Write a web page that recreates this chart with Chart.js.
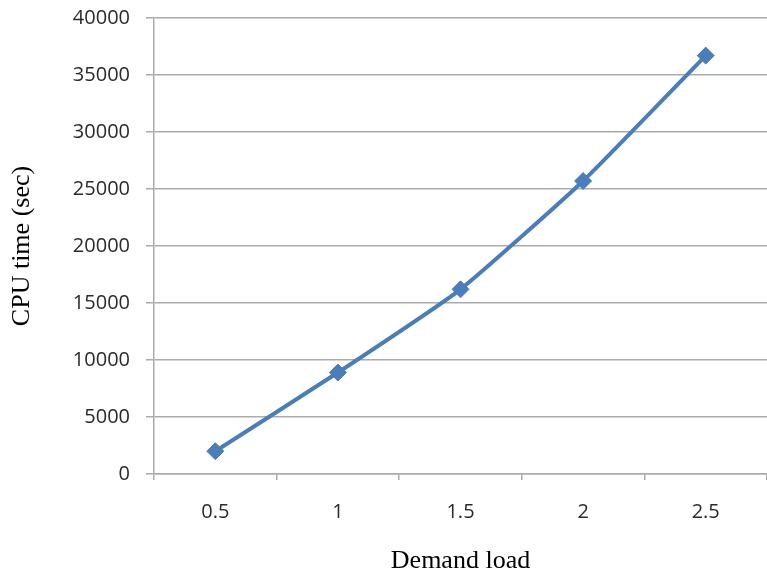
<!DOCTYPE html>
<html>
<head>
<meta charset="utf-8">
<script src="https://cdn.jsdelivr.net/npm/chart.js@4/dist/chart.umd.min.js"></script>
<style>
    html, body { margin: 0; padding: 0; background: #fff; }
    #wrap { width: 767px; height: 576px; position: relative; }
</style>
</head>
<body>
<div id="wrap"><canvas id="cpuChart"></canvas></div>
<script>
const demandLoad = ['0.5', '1', '1.5', '2', '2.5'];
const cpuTime = [2000, 8900, 16200, 25700, 36700];
const yTicks = [0, 5000, 10000, 15000, 20000, 25000, 30000, 35000, 40000];

const lineColor = '#4a7ebb';
const gridColor = '#ababab';
const tickFont = { family: '"Open Sans"', size: 20 };
const titleFont = { family: '"Liberation Serif"', size: 26, lineHeight: 1 };

new Chart(document.getElementById('cpuChart'), {
    type: 'line',
    data: {
        labels: demandLoad,
        datasets: [
            {
                label: 'CPU time',
                data: cpuTime,
                borderColor: lineColor,
                backgroundColor: lineColor,
                borderWidth: 4,
                tension: 0.15,
                pointStyle: 'rectRot',
                pointRadius: 8.5,
                pointBorderWidth: 1
            }
        ]
    },
    options: {
        responsive: true,
        maintainAspectRatio: false,
        animation: false,
        layout: {
            autoPadding: false,
            padding: { top: 18, right: 0, left: 0, bottom: 0 }
        },
        plugins: {
            legend: { display: false },
            tooltip: { enabled: false }
        },
        scales: {
            x: {
                offset: true,
                grid: {
                    offset: true,
                    drawOnChartArea: false,
                    color: gridColor,
                    lineWidth: 1.5,
                    tickLength: 6
                },
                border: { color: gridColor, width: 1.5 },
                ticks: { color: '#2a2a2a', font: tickFont, padding: 20, maxRotation: 0 },
                title: {
                    display: true,
                    text: 'Demand load',
                    color: '#000',
                    font: titleFont,
                    padding: { top: 0, bottom: 2 }
                },
                afterFit: (scale) => {
                    scale.height = 102;
                    scale.paddingLeft = 0;
                    scale.paddingRight = 0;
                }
            },
            y: {
                min: 0,
                max: 40000,
                afterBuildTicks: (scale) => {
                    scale.ticks = yTicks.map(v => ({ value: v }));
                },
                grid: {
                    color: gridColor,
                    lineWidth: 1.5,
                    tickLength: 8
                },
                border: { color: gridColor, width: 1.5 },
                ticks: {
                    color: '#2a2a2a',
                    font: tickFont,
                    padding: 16,
                    callback: (v) => String(v)
                },
                title: {
                    display: true,
                    text: 'CPU time (sec)',
                    color: '#000',
                    font: titleFont,
                    padding: { top: 9, bottom: 0 }
                },
                afterFit: (scale) => {
                    scale.width = 154;
                    scale.paddingTop = 0;
                    scale.paddingBottom = 0;
                }
            }
        }
    }
});
</script>
</body>
</html>
